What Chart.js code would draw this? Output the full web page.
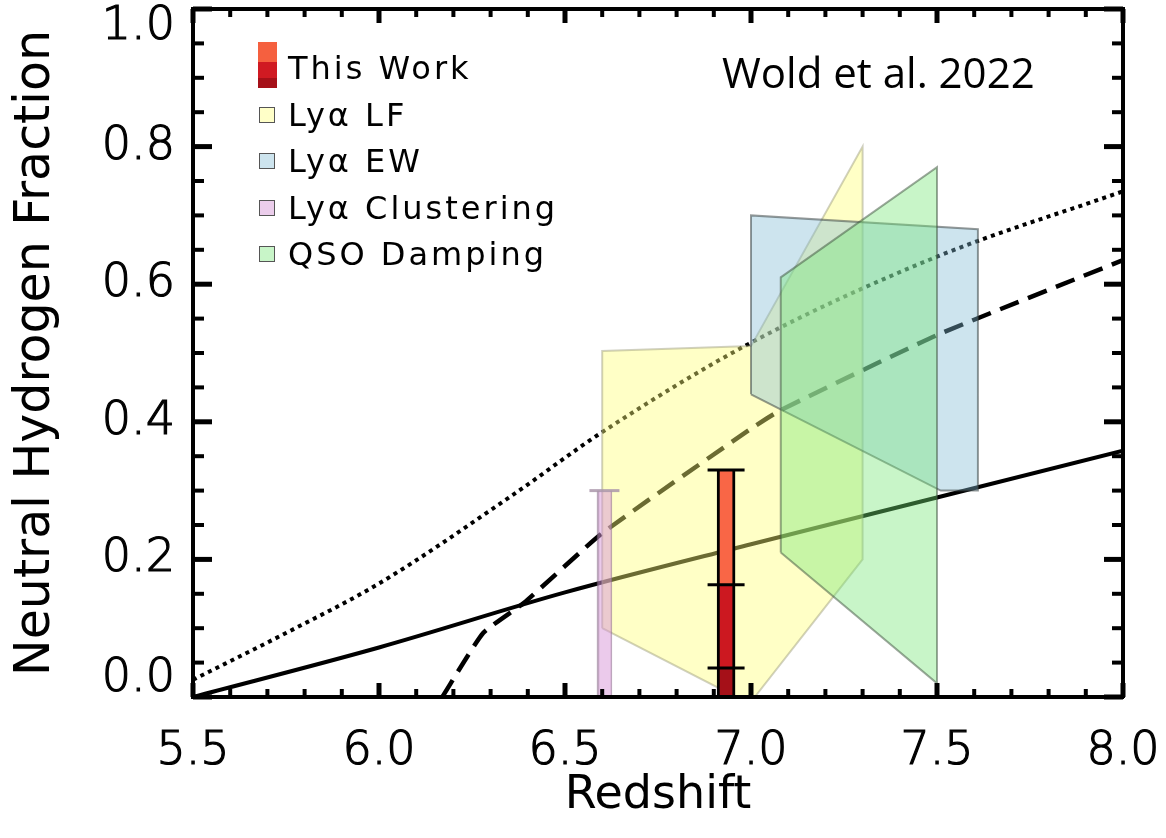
<!DOCTYPE html>
<html><head><meta charset="utf-8">
<script src="https://cdn.jsdelivr.net/npm/chart.js@4.4.1/dist/chart.umd.min.js"></script>
<style>
html,body{margin:0;padding:0;background:#fff;}
#wrap{position:relative;width:1166px;height:838px;overflow:hidden;background:#fff;}
canvas{position:absolute;left:0;top:0;}
.leg{position:absolute;font-family:"DejaVu Sans";font-size:32px;line-height:32px;letter-spacing:3px;color:#000;white-space:pre;}
.sw{position:absolute;box-sizing:border-box;border:1.5px solid #555;}
#note{position:absolute;left:722px;top:51px;font-family:"Open Sans";font-size:42px;line-height:42px;color:#000;white-space:pre;}
</style></head><body>
<div id="wrap">
<canvas id="c" width="1166" height="838"></canvas>
<div id="legend"></div>
<div id="note">Wold et al. 2022</div>
</div>
<script>
// ---- values ----
const xMajor = [5.5, 6.0, 6.5, 7.0, 7.5, 8.0];
const yMajor = [0.0, 0.2, 0.4, 0.6, 0.8, 1.0];

const solidZ = [5.5, 6.0, 6.5, 7.0, 7.5, 8.0];
const solidXHI = [0.0, 0.072, 0.152, 0.222, 0.29, 0.358];

const dottedZ = [5.5, 5.75, 6.0, 6.35, 6.6, 7.0, 7.5, 8.0];
const dottedXHI = [0.025, 0.093, 0.165, 0.29, 0.385, 0.515, 0.64, 0.735];

const dashedZ = [6.17, 6.28, 6.39, 6.6, 7.0, 7.08, 7.5, 8.0];
const dashedXHI = [0.0, 0.093, 0.137, 0.238, 0.39, 0.417, 0.526, 0.635];

const lyaLFZ = [6.60, 6.60, 7.00, 7.30, 7.30, 7.01, 6.96, 6.60];
const lyaLFXHI = [0.10, 0.503, 0.51, 0.80, 0.20, 0.0, 0.0, 0.10];

const lyaEWZ = [7.00, 7.00, 7.61, 7.61, 7.51, 7.00];
const lyaEWXHI = [0.44, 0.70, 0.68, 0.30, 0.30, 0.44];

const qsoZ = [7.08, 7.08, 7.50, 7.50, 7.08];
const qsoXHI = [0.21, 0.61, 0.77, 0.02, 0.21];

const clusteringZ = 6.606;
const clusteringXHI = [0.0, 0.30];

const thisWorkZ = 6.933;
const thisWorkXHI = [0.0, 0.042, 0.163, 0.33];

const legendLabels = ['This Work', 'Lyα LF', 'Lyα EW', 'Lyα Clustering', 'QSO Damping'];
const legendFills = ['', '#FFFFC8', '#CDE4EE', '#EBCDEB', '#C8F5C8'];

// ---- helpers ----
const pts = (zs, vs) => zs.map((z, i) => ({x: z, y: vs[i]}));
const isMajor = (v, list) => list.some(m => Math.abs(m - v) < 1e-6);
const FONT = 'DejaVu Sans';

const polyStyle = (fillC, lineC) => ({
  type: 'line', showLine: true, fill: 'shape', backgroundColor: fillC,
  borderColor: lineC, borderWidth: 2, pointRadius: 0, tension: 0
});

const datasets = [
  {data: pts(solidZ, solidXHI), borderColor: '#000', borderWidth: 4,
    type: 'line', showLine: true, fill: false, pointRadius: 0, cubicInterpolationMode: 'monotone', order: 20},
  {data: pts(dottedZ, dottedXHI), borderColor: '#000', borderWidth: 4, borderDash: [4, 4.4], borderCapStyle: 'butt',
    type: 'line', showLine: true, fill: false, pointRadius: 0, cubicInterpolationMode: 'monotone', order: 19},
  {data: pts(dashedZ, dashedXHI), borderColor: '#000', borderWidth: 4.5, borderDash: [20, 10],
    type: 'line', showLine: true, fill: false, pointRadius: 0, tension: 0.15, order: 18},
  Object.assign(polyStyle('rgba(255,255,118,0.42)', 'rgba(150,150,120,0.45)'), {data: pts(lyaLFZ, lyaLFXHI), order: 9}),
  Object.assign(polyStyle('rgba(130,187,212,0.40)', 'rgba(60,70,70,0.55)'), {data: pts(lyaEWZ, lyaEWXHI), order: 8}),
  Object.assign(polyStyle('rgba(117,230,117,0.40)', 'rgba(60,80,60,0.5)'), {data: pts(qsoZ, qsoXHI), order: 7}),
  {type: 'bar', data: [{x: clusteringZ, y: clusteringXHI}], backgroundColor: 'rgba(215,150,215,0.5)',
    borderColor: 'rgba(140,110,140,0.6)', borderWidth: {left: 2, right: 1, top: 0, bottom: 0}, borderSkipped: false,
    barThickness: 15, grouped: false, order: 5},
  {type: 'scatter', data: [{x: clusteringZ, y: clusteringXHI[1]}], showLine: false, pointStyle: 'line',
    pointRadius: 15, pointBorderWidth: 3, pointBorderColor: 'rgba(170,150,170,0.85)', order: 4},
  {type: 'bar', data: [
      {x: thisWorkZ, y: [thisWorkXHI[0], thisWorkXHI[1]]},
      {x: thisWorkZ, y: [thisWorkXHI[1], thisWorkXHI[2]]},
      {x: thisWorkZ, y: [thisWorkXHI[2], thisWorkXHI[3]]}],
    backgroundColor: ['#A51018', '#CC1820', '#F96646'], borderColor: '#000',
    borderWidth: {left: 3, right: 3, top: 0, bottom: 0}, borderSkipped: false,
    barThickness: 18, grouped: false, order: 2},
  {type: 'scatter', data: thisWorkXHI.slice(1).map(v => ({x: thisWorkZ, y: v})), showLine: false,
    pointStyle: 'line', pointRadius: 18.5, pointBorderWidth: 3, pointBorderColor: '#000', order: 1}
];

// inward tick marks, placed at each scale's own ticks
const tickSpec = {
  x:  {major: xMajor, majorLen: 14, minorLen: 8},
  x2: {major: xMajor, majorLen: 14, minorLen: 8},
  y:  {major: yMajor, majorLen: 19, minorLen: 11},
  y2: {major: yMajor, majorLen: 19, minorLen: 11}
};
const inwardTicks = {
  id: 'inwardTicks',
  afterDatasetsDraw(chart) {
    const ctx = chart.ctx, ca = chart.chartArea;
    ctx.save();
    ctx.strokeStyle = '#000';
    Object.keys(tickSpec).forEach(id => {
      const s = chart.scales[id], spec = tickSpec[id];
      if (!s) return;
      s.ticks.forEach(t => {
        const p = s.getPixelForValue(t.value);
        const mj = isMajor(t.value, spec.major);
        const len = mj ? spec.majorLen : spec.minorLen;
        ctx.lineWidth = mj ? 5 : 4;
        ctx.beginPath();
        if (s.position === 'bottom') { ctx.moveTo(p, ca.bottom); ctx.lineTo(p, ca.bottom - len); }
        else if (s.position === 'top') { ctx.moveTo(p, ca.top); ctx.lineTo(p, ca.top + len); }
        else if (s.position === 'left') { ctx.moveTo(ca.left, p); ctx.lineTo(ca.left + len, p); }
        else { ctx.moveTo(ca.right, p); ctx.lineTo(ca.right - len, p); }
        ctx.stroke();
      });
    });
    ctx.restore();
  }
};

const noGrid = {display: false, drawOnChartArea: false, drawTicks: false, tickLength: 0, offset: false};
const border = {display: true, color: '#000', width: 4, z: 1};
const zeroPad = s => { s.paddingLeft = 0; s.paddingRight = 0; s.paddingTop = 0; s.paddingBottom = 0; };

new Chart(document.getElementById('c'), {
  type: 'scatter',
  data: {datasets},
  plugins: [inwardTicks],
  options: {
    responsive: false, animation: false, devicePixelRatio: 1,
    layout: {padding: 0, autoPadding: false},
    plugins: {legend: {display: false}, tooltip: {enabled: false}, title: {display: false}},
    scales: {
      x: {
        type: 'linear', position: 'bottom', display: true, min: 5.5, max: 8.0, offset: false,
        border, grid: noGrid,
        ticks: {stepSize: 0.1, autoSkip: false, maxRotation: 0, minRotation: 0, padding: 27, color: '#000',
          textStrokeColor: '#000', textStrokeWidth: 1.2,
          font: {family: FONT, size: 46, weight: '300'},
          callback: v => isMajor(v, xMajor) ? Number(v).toFixed(1) : ''},
        title: {display: true, text: 'Redshift', color: '#000', font: {family: FONT, size: 46, weight: '400'},
          padding: {top: 0, bottom: 14}},
        afterFit: s => { s.height = 141; zeroPad(s); }
      },
      x2: {
        type: 'linear', position: 'top', display: true, min: 5.5, max: 8.0, offset: false,
        border, grid: noGrid,
        ticks: {display: false, stepSize: 0.1, autoSkip: false},
        afterFit: s => { s.height = 9; zeroPad(s); }
      },
      y: {
        type: 'linear', position: 'left', display: true, min: 0, max: 1.0,
        border, grid: noGrid,
        ticks: {stepSize: 0.05, autoSkip: false, padding: 18, color: '#000',
          textStrokeColor: '#000', textStrokeWidth: 1.2,
          font: {family: FONT, size: 46, weight: '300', lineHeight: 0.8},
          callback: v => {
            if (Math.abs(v - 1) < 1e-6) return ['', '1.0'];
            if (Math.abs(v) < 1e-6) return ['0.0', ''];
            return isMajor(v, yMajor) ? Number(v).toFixed(1) : '';
          }},
        title: {display: true, text: 'Neutral Hydrogen Fraction', color: '#000', font: {family: FONT, size: 49, weight: '400'},
          padding: {top: 7, bottom: 0}},
        afterFit: s => { s.width = 193; zeroPad(s); }
      },
      y2: {
        type: 'linear', position: 'right', display: true, min: 0, max: 1.0,
        border, grid: noGrid,
        ticks: {display: false, stepSize: 0.05, autoSkip: false},
        afterFit: s => { s.width = 43; zeroPad(s); }
      }
    }
  }
});

// ---- legend (HTML text) ----
const legend = document.getElementById('legend');
const baseline0 = 79, rowGap = 46.5;
legendLabels.forEach((lab, i) => {
  const base = baseline0 + i * rowGap;
  const t = document.createElement('div');
  t.className = 'leg';
  t.style.left = '288px';
  t.style.top = (base - 27) + 'px';
  t.textContent = lab;
  legend.appendChild(t);
  const s = document.createElement('div');
  s.className = 'sw';
  if (i === 0) {
    s.style.left = '258px'; s.style.top = '42px'; s.style.width = '19px'; s.style.height = '46px';
    s.style.border = 'none';
    s.style.background = 'linear-gradient(#F5603F 0 20px, #D01A22 20px 36px, #A51018 36px 46px)';
  } else {
    s.style.left = '259px'; s.style.top = (base - 19) + 'px'; s.style.width = '16px'; s.style.height = '16px';
    s.style.background = legendFills[i];
  }
  legend.appendChild(s);
});
</script>
</body></html>
